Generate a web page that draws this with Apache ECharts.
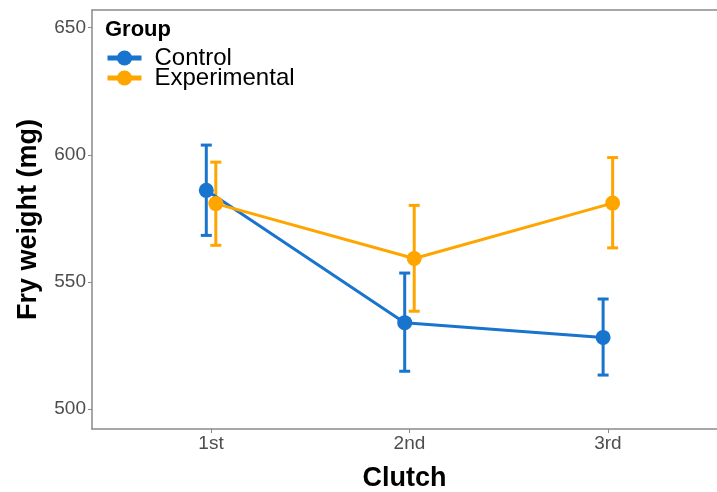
<!DOCTYPE html>
<html>
<head>
<meta charset="utf-8">
<script src="https://cdn.jsdelivr.net/npm/echarts@6/dist/echarts.min.js"></script>
<style>
html,body{margin:0;padding:0;background:#fff;}
#chart{width:717px;height:492px;}
</style>
</head>
<body>
<div id="chart"></div>
<script>
var categories = ['1st', '2nd', '3rd'];
var groups = ['Control', 'Experimental'];
var controlMean = [586.0, 534.0, 528.2];
var controlLow  = [568.3, 514.9, 513.4];
var controlHigh = [603.8, 553.5, 543.3];
var expMean = [580.8, 559.2, 581.0];
var expLow  = [564.4, 538.5, 563.4];
var expHigh = [597.1, 580.1, 598.9];
var yTicks = [500, 550, 600, 650];

var dodge = 0.024;
var colors = {Control: '#1874CD', Experimental: '#FFA500'};
var FONT = '"Liberation Sans", Arial, sans-serif';

function pts(mean, off) {
  return mean.map(function (v, i) { return [i + 1 + off, v]; });
}
function errs(low, high, off) {
  return low.map(function (v, i) { return [i + 1 + off, v, high[i]]; });
}
function errSeries(name, data, color) {
  return {
    type: 'custom',
    name: name,
    data: data,
    z: 3,
    silent: true,
    itemStyle: {color: color},
    renderItem: function (params, api) {
      var x = api.value(0);
      var lo = api.coord([x, api.value(1)]);
      var hi = api.coord([x, api.value(2)]);
      var hw = 5.5;
      var st = {stroke: color, lineWidth: 3};
      return {
        type: 'group',
        children: [
          {type: 'line', shape: {x1: lo[0], y1: lo[1], x2: hi[0], y2: hi[1]}, style: st},
          {type: 'line', shape: {x1: lo[0] - hw, y1: lo[1], x2: lo[0] + hw, y2: lo[1]}, style: st},
          {type: 'line', shape: {x1: hi[0] - hw, y1: hi[1], x2: hi[0] + hw, y2: hi[1]}, style: st}
        ]
      };
    }
  };
}
function lineSeries(name, data, color) {
  return {
    type: 'line',
    name: name,
    data: data,
    z: 4,
    symbol: 'circle',
    symbolSize: 15,
    showSymbol: true,
    itemStyle: {color: color},
    lineStyle: {color: color, width: 3},
    emphasis: {disabled: true},
    animation: false
  };
}

var chart = echarts.init(document.getElementById('chart'), null, {renderer: 'canvas'});
chart.setOption({
  animation: false,
  backgroundColor: '#ffffff',
  title: {
    text: 'Group',
    left: 105,
    top: 19,
    padding: 0,
    textStyle: {fontFamily: FONT, fontWeight: 'bold', fontSize: 22, color: '#000'}
  },
  legend: {
    data: groups,
    orient: 'vertical',
    left: 105,
    top: 46,
    padding: 0,
    itemWidth: 34,
    itemHeight: 19,
    itemGap: -4,
    lineStyle: {width: 5},
    textStyle: {fontFamily: FONT, fontSize: 24, lineHeight: 16, color: '#000', padding: [0, 0, 0, 8]}
  },
  grid: {left: 92, right: 0, top: 10, bottom: 63, containLabel: false, outerBoundsMode: 'none'},
  xAxis: [{
    type: 'value',
    min: 0.4,
    max: 3.55,
    position: 'bottom',
    name: 'Clutch',
    nameLocation: 'middle',
    nameGap: 36,
    nameTextStyle: {fontFamily: FONT, fontWeight: 'bold', fontSize: 27, color: '#000'},
    splitLine: {show: false},
    axisLine: {show: true, onZero: false, lineStyle: {color: '#8a8a8a', width: 1.5}},
    axisTick: {show: true, length: 4, customValues: [1, 2, 3], lineStyle: {color: '#8a8a8a', width: 1}},
    axisLabel: {
      customValues: [1, 2, 3],
      margin: 5,
      fontFamily: FONT, fontSize: 19, color: '#4d4d4d',
      formatter: function (v) { return categories[Math.round(v) - 1]; }
    }
  }, {
    type: 'value',
    min: 0.4,
    max: 3.55,
    position: 'top',
    splitLine: {show: false},
    axisLine: {show: true, onZero: false, lineStyle: {color: '#8a8a8a', width: 1.5}},
    axisTick: {show: false},
    axisLabel: {show: false}
  }],
  yAxis: {
    type: 'value',
    min: 492.2,
    max: 656.9,
    name: 'Fry weight (mg)',
    nameLocation: 'middle',
    nameGap: 50,
    nameTextStyle: {fontFamily: FONT, fontWeight: 'bold', fontSize: 27, color: '#000'},
    splitLine: {show: false},
    axisLine: {show: true, onZero: false, lineStyle: {color: '#8a8a8a', width: 1.5}},
    axisTick: {show: true, length: 4, customValues: yTicks, lineStyle: {color: '#8a8a8a', width: 1}},
    axisLabel: {customValues: yTicks, margin: 6, fontFamily: FONT, fontSize: 19, color: '#4d4d4d'}
  },
  series: [
    lineSeries('Control', pts(controlMean, -dodge), colors.Control),
    lineSeries('Experimental', pts(expMean, dodge), colors.Experimental),
    errSeries('Control', errs(controlLow, controlHigh, -dodge), colors.Control),
    errSeries('Experimental', errs(expLow, expHigh, dodge), colors.Experimental)
  ]
});
</script>
</body>
</html>
